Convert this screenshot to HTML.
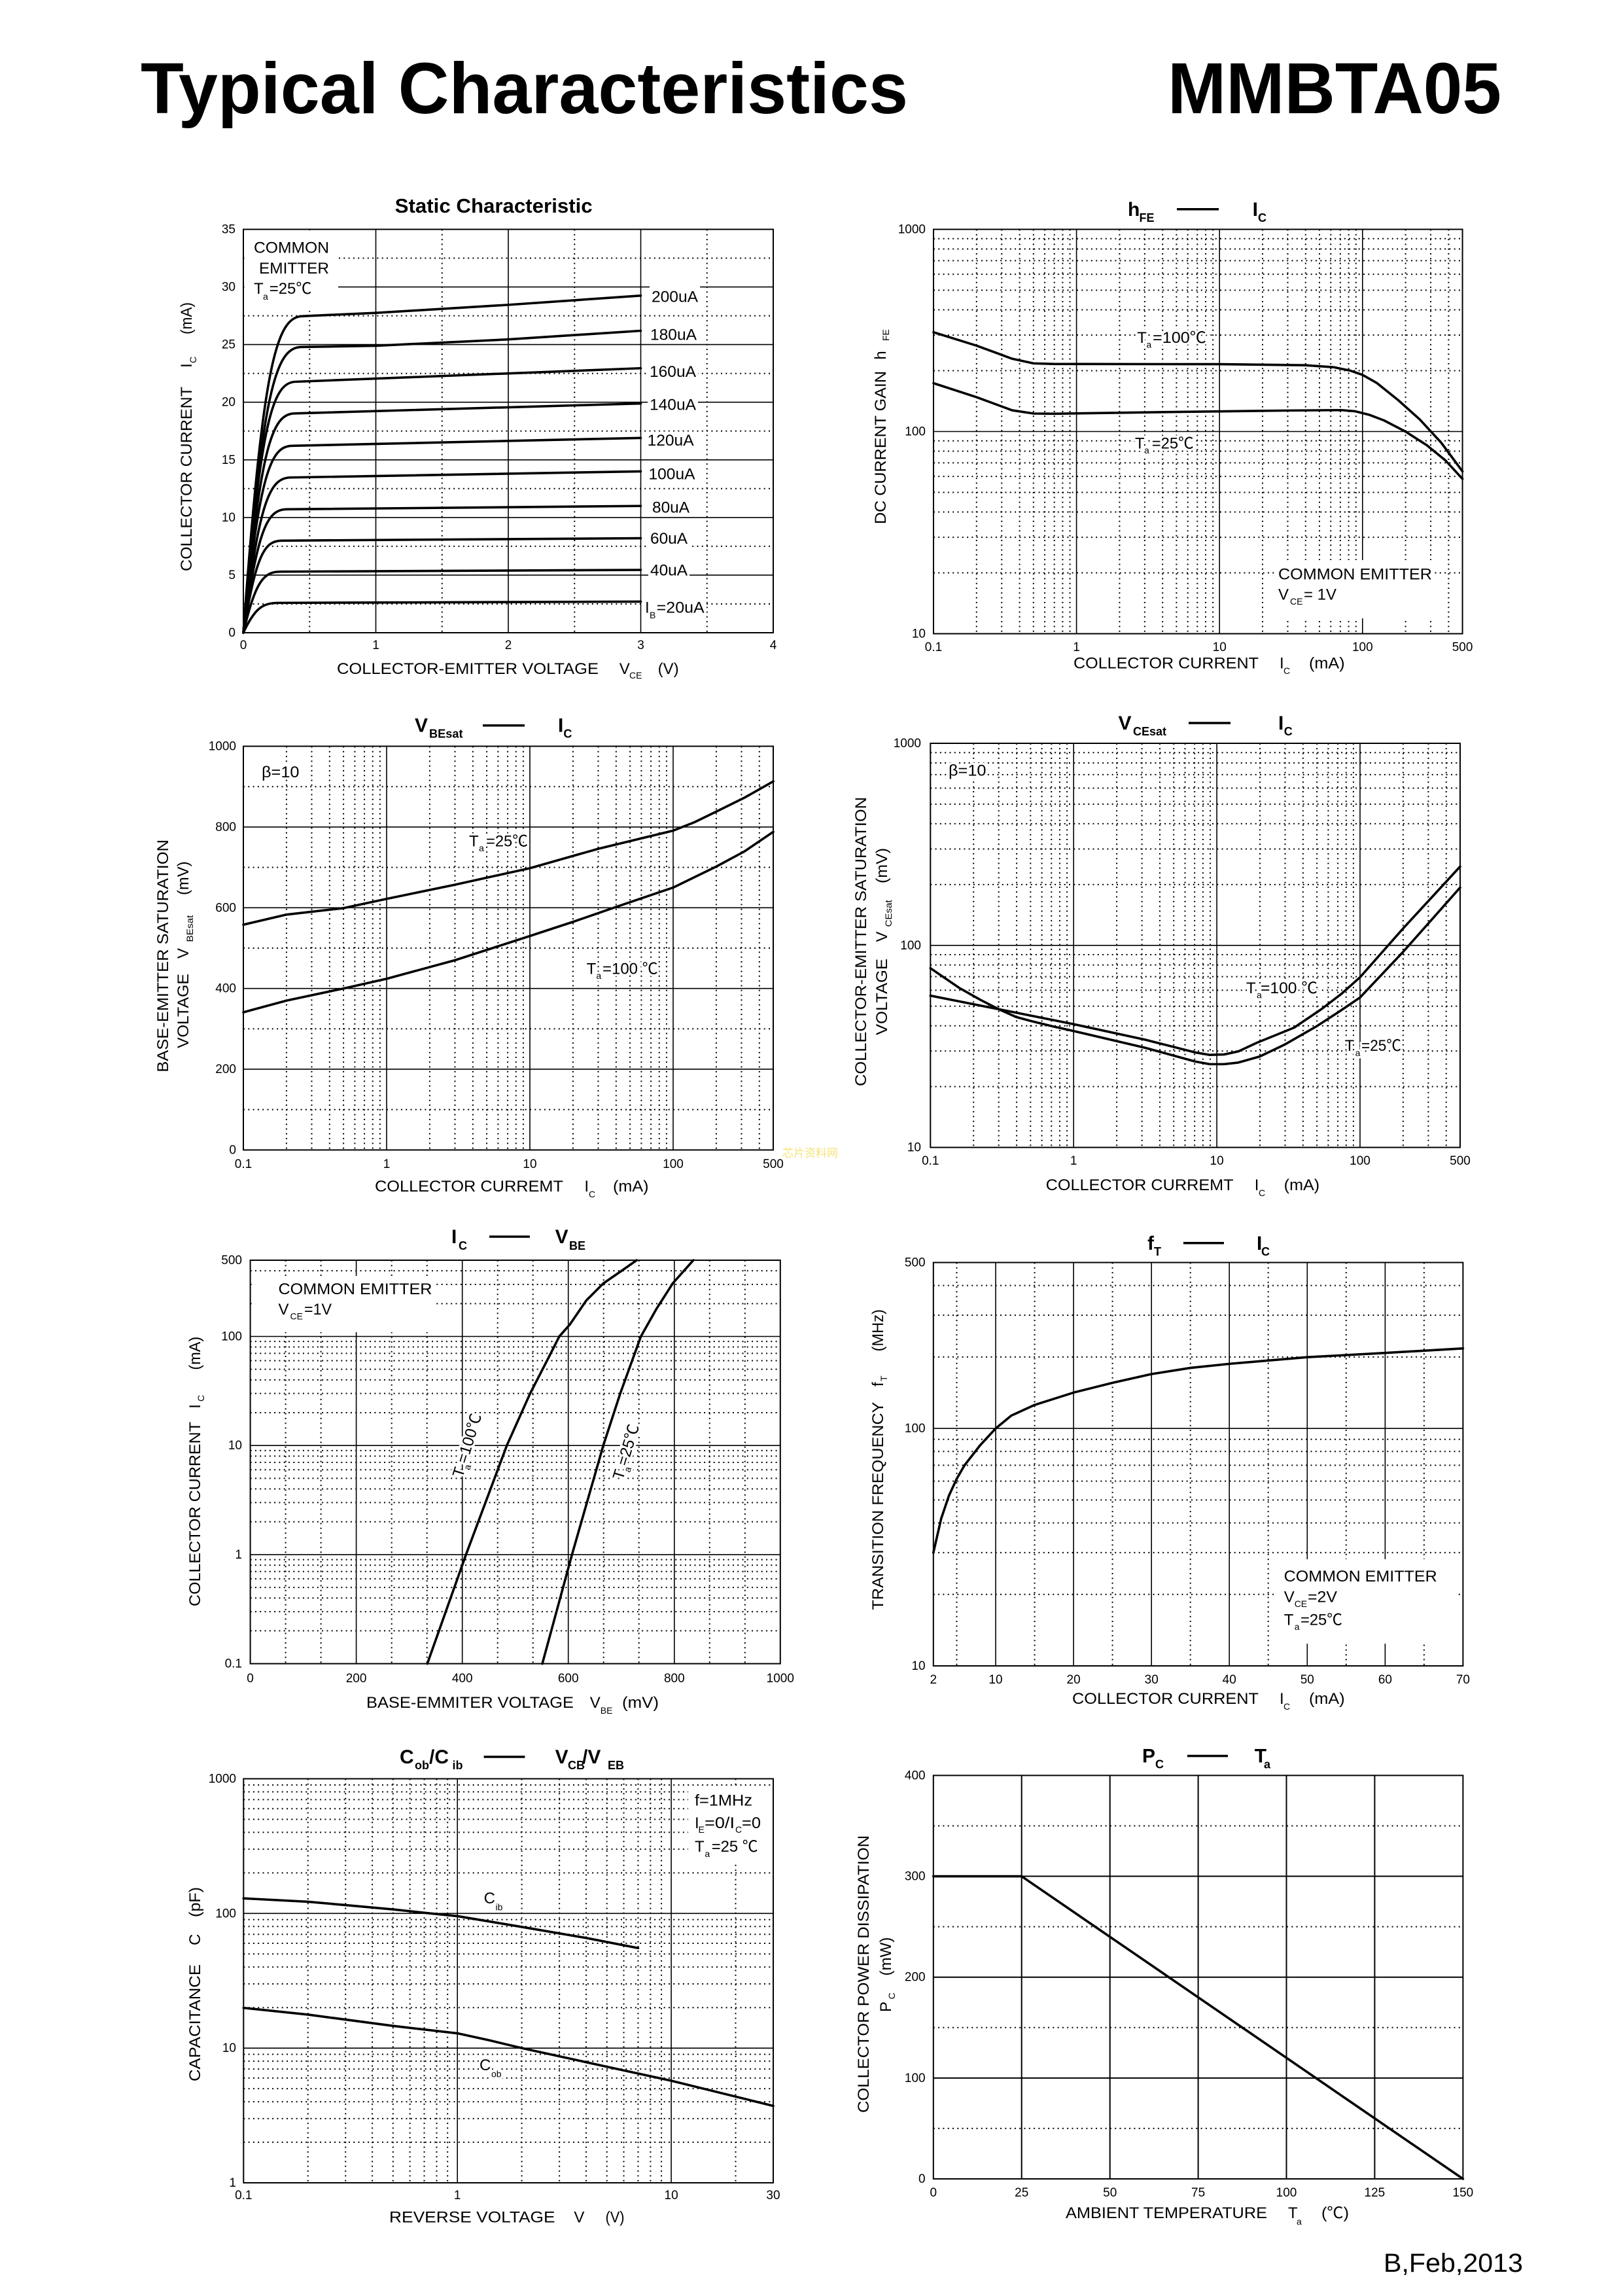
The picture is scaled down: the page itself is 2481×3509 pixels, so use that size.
<!DOCTYPE html>
<html><head><meta charset="utf-8"><style>
html,body{margin:0;padding:0;background:#fff}
svg{display:block}
text{font-family:"Liberation Sans","Noto Sans CJK SC",sans-serif;fill:#000}
.te{font-size:19px;text-anchor:end}
.tm{font-size:19px;text-anchor:middle}
.a{font-size:24px}
.sb{font-size:14px}
.h{font-size:30px;font-weight:bold}
.hs{font-size:18px;font-weight:bold}
.d{fill:none;stroke:#000;stroke-width:2;stroke-dasharray:2 5.3;vector-effect:non-scaling-stroke}
.s{fill:none;stroke:#000;stroke-width:1.6;vector-effect:non-scaling-stroke}
.c{fill:none;stroke:#000;stroke-width:3.6;stroke-linejoin:round;stroke-linecap:round;vector-effect:non-scaling-stroke}
.f{fill:none;stroke:#000;stroke-width:2}
.w{fill:#fff;stroke:none}
.halo{stroke:#fff;stroke-width:7px;paint-order:stroke;stroke-linejoin:round}
</style></head><body>
<svg xmlns="http://www.w3.org/2000/svg" width="2481" height="3509" viewBox="0 0 2481 3509">
<rect x="0" y="0" width="2481" height="3509" fill="#fff"/>

<!-- Header -->
<text x="215" y="173" style="font-size:110px;font-weight:bold" textLength="1173" lengthAdjust="spacingAndGlyphs">Typical Characteristics</text>
<text x="1785" y="173" style="font-size:110px;font-weight:bold" textLength="510" lengthAdjust="spacingAndGlyphs">MMBTA05</text>

<!-- ================= Chart 1: Static Characteristic ================= -->
<text x="603.7" y="325" style="font-size:31px;font-weight:bold" textLength="302" lengthAdjust="spacingAndGlyphs">Static Characteristic</text>
<path class="d" d="M473.25 350.5V967M675.75 350.5V967M878.25 350.5V967M1080.75 350.5V967M372 923H1182M372 834.9H1182M372 746.8H1182M372 658.8H1182M372 570.7H1182M372 482.6H1182M372 394.5H1182"/>
<path class="s" d="M574.5 350.5V967M777 350.5V967M979.5 350.5V967M372 878.9H1182M372 790.9H1182M372 702.8H1182M372 614.7H1182M372 526.6H1182M372 438.6H1182"/>
<rect class="w" x="373.5" y="352" width="143.5" height="123"/>
<rect class="w" x="993" y="437" width="77" height="30"/>
<rect class="w" x="991" y="498" width="77" height="27"/>
<rect class="w" x="990" y="554.5" width="77" height="27"/>
<rect class="w" x="990" y="605" width="77" height="27"/>
<rect class="w" x="986.6" y="659.7" width="77" height="27"/>
<rect class="w" x="988.5" y="711" width="77" height="27"/>
<rect class="w" x="994" y="762" width="63" height="27"/>
<rect class="w" x="991" y="809.5" width="63" height="27"/>
<rect class="w" x="991" y="858" width="63" height="27"/>
<rect class="w" x="983" y="915" width="97" height="27"/>
<rect class="f" x="372" y="350.5" width="810" height="616.5"/>
<g transform="translate(372 967) scale(202.5 -17.614)">
<path class="c" d="M0 0C0.1485 23.35 0.2475 27.47 0.45 27.47L1 27.75L2 28.45L3 29.25"/>
<path class="c" d="M0 0C0.145 21.07 0.242 24.79 0.44 24.79L1 24.9L2 25.45L3 26.2"/>
<path class="c" d="M0 0C0.132 18.51 0.22 21.78 0.40 21.78L3 22.95"/>
<path class="c" d="M0 0C0.129 16.18 0.2145 19.03 0.39 19.03L3 19.89"/>
<path class="c" d="M0 0C0.122 13.79 0.2035 16.22 0.37 16.22L3 16.9"/>
<path class="c" d="M0 0C0.119 11.45 0.198 13.47 0.36 13.47L3 14.0"/>
<path class="c" d="M0 0C0.109 9.1 0.1815 10.71 0.33 10.71L3 11.0"/>
<path class="c" d="M0 0C0.096 6.79 0.16 7.99 0.29 7.99L3 8.2"/>
<path class="c" d="M0 0C0.092 4.5 0.154 5.3 0.28 5.3L3 5.45"/>
<path class="c" d="M0 0C0.089 2.2 0.1485 2.59 0.27 2.59L3 2.7"/>
</g>
<text class="a" x="388" y="386.7" textLength="115" lengthAdjust="spacingAndGlyphs">COMMON</text>
<text class="a" x="396" y="418" textLength="107" lengthAdjust="spacingAndGlyphs">EMITTER</text>
<text class="a" x="388" y="449">T</text><text class="sb" x="402" y="458">a</text><text class="a" x="411.7" y="449">=25℃</text>
<text class="a" x="996" y="461.5" textLength="71" lengthAdjust="spacingAndGlyphs">200uA</text>
<text class="a" x="994" y="519.5" textLength="71" lengthAdjust="spacingAndGlyphs">180uA</text>
<text class="a" x="993" y="576" textLength="71" lengthAdjust="spacingAndGlyphs">160uA</text>
<text class="a" x="993" y="626.5" textLength="71" lengthAdjust="spacingAndGlyphs">140uA</text>
<text class="a" x="989.6" y="681" textLength="71" lengthAdjust="spacingAndGlyphs">120uA</text>
<text class="a" x="991.5" y="732.5" textLength="71" lengthAdjust="spacingAndGlyphs">100uA</text>
<text class="a" x="997" y="783.5" textLength="57" lengthAdjust="spacingAndGlyphs">80uA</text>
<text class="a" x="994" y="831" textLength="57" lengthAdjust="spacingAndGlyphs">60uA</text>
<text class="a" x="994" y="879.5" textLength="57" lengthAdjust="spacingAndGlyphs">40uA</text>
<text class="a" x="986" y="936.5">I</text><text class="sb" x="993" y="945">B</text><text class="a" x="1003.7" y="936.5" textLength="73" lengthAdjust="spacingAndGlyphs">=20uA</text>
<text class="te" x="360" y="973">0</text><text class="te" x="360" y="884.9">5</text><text class="te" x="360" y="796.9">10</text><text class="te" x="360" y="708.8">15</text><text class="te" x="360" y="620.7">20</text><text class="te" x="360" y="532.6">25</text><text class="te" x="360" y="444.6">30</text><text class="te" x="360" y="356.5">35</text>
<text class="tm" x="372" y="992">0</text><text class="tm" x="574.5" y="992">1</text><text class="tm" x="777" y="992">2</text><text class="tm" x="979.5" y="992">3</text><text class="tm" x="1182" y="992">4</text>
<text class="a" x="515" y="1030" textLength="400" lengthAdjust="spacingAndGlyphs">COLLECTOR-EMITTER VOLTAGE</text>
<text class="a" x="946.7" y="1030">V</text><text class="sb" x="962" y="1037">CE</text><text class="a" x="1005.6" y="1030">(V)</text>
<text class="a" transform="translate(293 873) rotate(-90)" textLength="282" lengthAdjust="spacingAndGlyphs">COLLECTOR CURRENT</text>
<text class="a" transform="translate(293 562) rotate(-90)">I</text>
<text class="sb" transform="translate(300 555) rotate(-90)">C</text>
<text class="a" transform="translate(293 511) rotate(-90)" textLength="49" lengthAdjust="spacingAndGlyphs">(mA)</text>

<!-- ================= Chart 2: hFE - IC ================= -->
<text class="h" x="1724" y="329.8">h</text><text class="hs" x="1741.5" y="339">FE</text>
<line x1="1799" y1="319.8" x2="1863" y2="319.8" stroke="#000" stroke-width="3.5"/>
<text class="h" x="1914.6" y="329.8">I</text><text class="hs" x="1923" y="339">C</text>
<g transform="translate(1427 0) scale(218.6 1)">
<path class="d" d="M.301 350.5V968.5M.477 350.5V968.5M.602 350.5V968.5M.699 350.5V968.5M.778 350.5V968.5M.845 350.5V968.5M.903 350.5V968.5M.954 350.5V968.5M1.301 350.5V968.5M1.477 350.5V968.5M1.602 350.5V968.5M1.699 350.5V968.5M1.778 350.5V968.5M1.845 350.5V968.5M1.903 350.5V968.5M1.954 350.5V968.5M2.301 350.5V968.5M2.477 350.5V968.5M2.602 350.5V968.5M2.699 350.5V968.5M2.778 350.5V968.5M2.845 350.5V968.5M2.903 350.5V968.5M2.954 350.5V968.5M3.301 350.5V968.5M3.477 350.5V968.5M3.602 350.5V968.5"/>
<path class="s" d="M1 350.5V968.5M2 350.5V968.5M3 350.5V968.5"/>
</g>
<g transform="translate(0 968.5) scale(1 -309)">
<path class="d" d="M1427 .301H2235.6M1427 .477H2235.6M1427 .602H2235.6M1427 .699H2235.6M1427 .778H2235.6M1427 .845H2235.6M1427 .903H2235.6M1427 .954H2235.6M1427 1.301H2235.6M1427 1.477H2235.6M1427 1.602H2235.6M1427 1.699H2235.6M1427 1.778H2235.6M1427 1.845H2235.6M1427 1.903H2235.6M1427 1.954H2235.6"/>
<path class="s" d="M1427 1H2235.6"/>
</g>
<rect class="w" x="1950" y="856" width="243" height="89"/>
<rect class="f" x="1427" y="350.5" width="808.6" height="618"/>
<g transform="translate(1427 968.5) scale(218.6 -309)">
<path class="c" d="M0 1.491L0.3 1.425L0.55 1.36L0.7 1.337L0.85 1.334L2 1.333L2.6 1.328L2.8 1.318L2.92 1.3L3 1.28L3.1 1.24L3.25 1.155L3.4 1.06L3.55 0.945L3.699 0.803"/>
<path class="c" d="M0 1.239L0.3 1.17L0.55 1.105L0.7 1.089L0.85 1.088L1.5 1.095L2.5 1.104L2.85 1.106L2.95 1.1L3.05 1.082L3.15 1.055L3.3 1.0L3.45 0.932L3.58 0.857L3.699 0.766"/>
</g>
<text class="a halo" x="1738.3" y="524">T</text><text class="sb halo" x="1752.4" y="531.6">a</text><text class="a halo" x="1762" y="524" textLength="82" lengthAdjust="spacingAndGlyphs">=100℃</text>
<text class="a halo" x="1735" y="685.5">T</text><text class="sb halo" x="1749" y="693">a</text><text class="a halo" x="1760.8" y="685.5" textLength="64" lengthAdjust="spacingAndGlyphs">=25℃</text>
<text class="a" x="1954" y="885.6" textLength="235" lengthAdjust="spacingAndGlyphs">COMMON EMITTER</text>
<text class="a" x="1954" y="916.4">V</text><text class="sb" x="1972" y="924">CE</text><text class="a" x="1993" y="916.4" textLength="50" lengthAdjust="spacingAndGlyphs">= 1V</text>
<text class="te" x="1415" y="356.5">1000</text><text class="te" x="1415" y="665.5">100</text><text class="te" x="1415" y="974.5">10</text>
<text class="tm" x="1427" y="995">0.1</text><text class="tm" x="1645.6" y="995">1</text><text class="tm" x="1864.2" y="995">10</text><text class="tm" x="2082.8" y="995">100</text><text class="tm" x="2235.6" y="995">500</text>
<text class="a" x="1641" y="1021.5" textLength="283" lengthAdjust="spacingAndGlyphs">COLLECTOR CURRENT</text>
<text class="a" x="1956" y="1021.5">I</text><text class="sb" x="1962" y="1030">C</text><text class="a" x="2001" y="1021.5" textLength="54.6" lengthAdjust="spacingAndGlyphs">(mA)</text>
<text class="a" transform="translate(1354 801) rotate(-90)" textLength="234" lengthAdjust="spacingAndGlyphs">DC CURRENT GAIN</text>
<text class="a" transform="translate(1354 549.6) rotate(-90)">h</text>
<text class="sb" transform="translate(1359 521) rotate(-90)">FE</text>

<!-- ================= Chart 3: VBEsat - IC ================= -->
<text class="h" x="634" y="1118.7">V</text><text class="hs" x="656" y="1127.7" textLength="51.5" lengthAdjust="spacingAndGlyphs">BEsat</text>
<line x1="738" y1="1108.7" x2="802" y2="1108.7" stroke="#000" stroke-width="3.5"/>
<text class="h" x="853" y="1118.7">I</text><text class="hs" x="861.4" y="1127.7">C</text>
<g transform="translate(372 0) scale(219 1)">
<path class="d" d="M.301 1140.5V1757.5M.477 1140.5V1757.5M.602 1140.5V1757.5M.699 1140.5V1757.5M.778 1140.5V1757.5M.845 1140.5V1757.5M.903 1140.5V1757.5M.954 1140.5V1757.5M1.301 1140.5V1757.5M1.477 1140.5V1757.5M1.602 1140.5V1757.5M1.699 1140.5V1757.5M1.778 1140.5V1757.5M1.845 1140.5V1757.5M1.903 1140.5V1757.5M1.954 1140.5V1757.5M2.301 1140.5V1757.5M2.477 1140.5V1757.5M2.602 1140.5V1757.5M2.699 1140.5V1757.5M2.778 1140.5V1757.5M2.845 1140.5V1757.5M2.903 1140.5V1757.5M2.954 1140.5V1757.5M3.301 1140.5V1757.5M3.477 1140.5V1757.5M3.602 1140.5V1757.5"/>
<path class="s" d="M1 1140.5V1757.5M2 1140.5V1757.5M3 1140.5V1757.5"/>
</g>
<path class="d" d="M372 1695.8H1182M372 1572.4H1182M372 1449H1182M372 1325.6H1182M372 1202.2H1182"/>
<path class="s" d="M372 1634.1H1182M372 1510.7H1182M372 1387.3H1182M372 1263.9H1182"/>
<rect class="f" x="372" y="1140.5" width="810" height="617"/>
<g transform="translate(372 1757.5) scale(219 -0.617)">
<path class="c" d="M0 558L0.301 583L0.699 599L1 622L1.477 657L2 698L2.477 746L3 791L3.15 812L3.3 838L3.5 873L3.699 913"/>
<path class="c" d="M0 341L0.301 370L0.699 400L1 424L1.477 470L2 530L2.301 565L2.602 602L3 650L3.301 702L3.5 740L3.699 788"/>
</g>
<text class="a halo" x="400" y="1188" textLength="57.5" lengthAdjust="spacingAndGlyphs">β=10</text>
<text class="a halo" x="717" y="1293.4">T</text><text class="sb halo" x="732" y="1301">a</text><text class="a halo" x="743" y="1293.4" textLength="64" lengthAdjust="spacingAndGlyphs">=25℃</text>
<text class="a halo" x="896.6" y="1488.4">T</text><text class="sb halo" x="911.4" y="1496">a</text><text class="a halo" x="921" y="1488.4" textLength="84.6" lengthAdjust="spacingAndGlyphs">=100 ℃</text>
<text class="te" x="361" y="1146.5">1000</text><text class="te" x="361" y="1269.9">800</text><text class="te" x="361" y="1393.3">600</text><text class="te" x="361" y="1516.7">400</text><text class="te" x="361" y="1640.1">200</text><text class="te" x="361" y="1763.5">0</text>
<text class="tm" x="372" y="1785">0.1</text><text class="tm" x="591" y="1785">1</text><text class="tm" x="810" y="1785">10</text><text class="tm" x="1029" y="1785">100</text><text class="tm" x="1182" y="1785">500</text>
<text class="a" x="573" y="1820.8" textLength="288" lengthAdjust="spacingAndGlyphs">COLLECTOR CURREMT</text>
<text class="a" x="893.4" y="1820.8">I</text><text class="sb" x="900" y="1830">C</text><text class="a" x="937" y="1820.8" textLength="54.5" lengthAdjust="spacingAndGlyphs">(mA)</text>
<text class="a" transform="translate(257 1638.7) rotate(-90)" textLength="355.6" lengthAdjust="spacingAndGlyphs">BASE-EMITTER SATURATION</text>
<text class="a" transform="translate(288 1602) rotate(-90)" textLength="114" lengthAdjust="spacingAndGlyphs">VOLTAGE</text>
<text class="a" transform="translate(288 1465) rotate(-90)">V</text>
<text class="sb" transform="translate(295 1439.6) rotate(-90)" textLength="41" lengthAdjust="spacingAndGlyphs">BEsat</text>
<text class="a" transform="translate(288 1368) rotate(-90)" textLength="51.5" lengthAdjust="spacingAndGlyphs">(mV)</text>
<text x="1196" y="1768" style="font-size:17px;fill:#f5e27a">芯片资料网</text>

<!-- ================= Chart 4: VCEsat - IC ================= -->
<text class="h" x="1709.5" y="1115">V</text><text class="hs" x="1732" y="1124" textLength="51" lengthAdjust="spacingAndGlyphs">CEsat</text>
<line x1="1817" y1="1105" x2="1881" y2="1105" stroke="#000" stroke-width="3.5"/>
<text class="h" x="1954" y="1115">I</text><text class="hs" x="1962.7" y="1124">C</text>
<g transform="translate(1422.3 0) scale(218.9 1)">
<path class="d" d="M.301 1136V1753.6M.477 1136V1753.6M.602 1136V1753.6M.699 1136V1753.6M.778 1136V1753.6M.845 1136V1753.6M.903 1136V1753.6M.954 1136V1753.6M1.301 1136V1753.6M1.477 1136V1753.6M1.602 1136V1753.6M1.699 1136V1753.6M1.778 1136V1753.6M1.845 1136V1753.6M1.903 1136V1753.6M1.954 1136V1753.6M2.301 1136V1753.6M2.477 1136V1753.6M2.602 1136V1753.6M2.699 1136V1753.6M2.778 1136V1753.6M2.845 1136V1753.6M2.903 1136V1753.6M2.954 1136V1753.6M3.301 1136V1753.6M3.477 1136V1753.6M3.602 1136V1753.6"/>
<path class="s" d="M1 1136V1753.6M2 1136V1753.6M3 1136V1753.6"/>
</g>
<g transform="translate(0 1753.6) scale(1 -308.8)">
<path class="d" d="M1422.3 .301H2232M1422.3 .477H2232M1422.3 .602H2232M1422.3 .699H2232M1422.3 .778H2232M1422.3 .845H2232M1422.3 .903H2232M1422.3 .954H2232M1422.3 1.301H2232M1422.3 1.477H2232M1422.3 1.602H2232M1422.3 1.699H2232M1422.3 1.778H2232M1422.3 1.845H2232M1422.3 1.903H2232M1422.3 1.954H2232"/>
<path class="s" d="M1422.3 1H2232"/>
</g>
<rect class="f" x="1422.3" y="1136" width="809.7" height="617.6"/>
<g transform="translate(1422.3 1753.6) scale(218.9 -308.8)">
<path class="c" d="M0 0.887L0.2 0.79L0.35 0.73L0.477 0.684L0.6 0.645L0.699 0.626L0.85 0.6L1 0.576L1.5 0.493L1.85 0.425L1.95 0.412L2.05 0.412L2.15 0.42L2.3 0.45L2.477 0.51L2.7 0.601L2.85 0.67L3 0.742L3.3 0.967L3.699 1.286"/>
<path class="c" d="M0 0.751L0.477 0.684L1 0.61L1.5 0.533L1.85 0.47L1.95 0.458L2.05 0.46L2.15 0.475L2.28 0.518L2.54 0.593L2.73 0.684L2.87 0.76L3 0.842L3.3 1.083L3.699 1.39"/>
</g>
<text class="a halo" x="1450" y="1185.7" textLength="57.5" lengthAdjust="spacingAndGlyphs">β=10</text>
<text class="a halo" x="1905" y="1518">T</text><text class="sb halo" x="1921" y="1525.6">a</text><text class="a halo" x="1927" y="1518" textLength="87" lengthAdjust="spacingAndGlyphs">=100 ℃</text>
<text class="a halo" x="2055.6" y="1606">T</text><text class="sb halo" x="2071.6" y="1614">a</text><text class="a halo" x="2081" y="1606" textLength="61" lengthAdjust="spacingAndGlyphs">=25℃</text>
<text class="te" x="1408" y="1142">1000</text><text class="te" x="1408" y="1450.8">100</text><text class="te" x="1408" y="1759.6">10</text>
<text class="tm" x="1422.3" y="1780">0.1</text><text class="tm" x="1641.2" y="1780">1</text><text class="tm" x="1860.1" y="1780">10</text><text class="tm" x="2079" y="1780">100</text><text class="tm" x="2232" y="1780">500</text>
<text class="a" x="1598.6" y="1819" textLength="287" lengthAdjust="spacingAndGlyphs">COLLECTOR CURREMT</text>
<text class="a" x="1917.8" y="1819">I</text><text class="sb" x="1924" y="1828">C</text><text class="a" x="1962.7" y="1819" textLength="54.5" lengthAdjust="spacingAndGlyphs">(mA)</text>
<text class="a" transform="translate(1324 1660) rotate(-90)" textLength="442" lengthAdjust="spacingAndGlyphs">COLLECTOR-EMITTER SATURATION</text>
<text class="a" transform="translate(1356 1582) rotate(-90)" textLength="117" lengthAdjust="spacingAndGlyphs">VOLTAGE</text>
<text class="a" transform="translate(1356 1439.6) rotate(-90)">V</text>
<text class="sb" transform="translate(1363 1416.5) rotate(-90)" textLength="41" lengthAdjust="spacingAndGlyphs">CEsat</text>
<text class="a" transform="translate(1356 1350) rotate(-90)" textLength="54" lengthAdjust="spacingAndGlyphs">(mV)</text>

<!-- ================= Chart 5: IC - VBE ================= -->
<text class="h" x="690" y="1900">I</text><text class="hs" x="701" y="1910">C</text>
<line x1="748" y1="1890" x2="810" y2="1890" stroke="#000" stroke-width="3.5"/>
<text class="h" x="848.6" y="1900">V</text><text class="hs" x="870" y="1910">BE</text>
<path class="d" d="M436.6 1926V2542.6M490.6 1926V2542.6M598.7 1926V2542.6M652.7 1926V2542.6M760.7 1926V2542.6M814.7 1926V2542.6M922.7 1926V2542.6M976.7 1926V2542.6M1084.8 1926V2542.6M1138.8 1926V2542.6"/>
<path class="s" d="M544.6 1926V2542.6M706.7 1926V2542.6M868.7 1926V2542.6M1030.8 1926V2542.6"/>
<g transform="translate(0 2542.6) scale(1 -166.7)">
<path class="d" d="M382.6 .301H1192.8M382.6 .477H1192.8M382.6 .602H1192.8M382.6 .699H1192.8M382.6 .778H1192.8M382.6 .845H1192.8M382.6 .903H1192.8M382.6 .954H1192.8M382.6 1.301H1192.8M382.6 1.477H1192.8M382.6 1.602H1192.8M382.6 1.699H1192.8M382.6 1.778H1192.8M382.6 1.845H1192.8M382.6 1.903H1192.8M382.6 1.954H1192.8M382.6 2.301H1192.8M382.6 2.477H1192.8M382.6 2.602H1192.8M382.6 2.699H1192.8M382.6 2.778H1192.8M382.6 2.845H1192.8M382.6 2.903H1192.8M382.6 2.954H1192.8M382.6 3.301H1192.8M382.6 3.477H1192.8M382.6 3.602H1192.8"/>
<path class="s" d="M382.6 1H1192.8M382.6 2H1192.8M382.6 3H1192.8"/>
</g>
<rect class="w" x="390" y="1950" width="272" height="86"/>
<rect class="f" x="382.6" y="1926" width="810.2" height="616.6"/>
<g transform="translate(382.6 2542.6) scale(0.8102 -166.7)">
<path class="c" d="M334 0L407 1L484 2L528 2.477L567 2.846L583 3L603 3.11L634 3.33L666 3.486L700 3.6L729 3.699"/>
<path class="c" d="M551 0L607 1L666 2L698 2.477L737 3L766 3.25L797 3.486L836 3.699"/>
</g>
<text class="a" x="425.5" y="1978" textLength="235" lengthAdjust="spacingAndGlyphs">COMMON EMITTER</text>
<text class="a" x="425.5" y="2009">V</text><text class="sb" x="443.5" y="2016.7">CE</text><text class="a" x="465" y="2009" textLength="42" lengthAdjust="spacingAndGlyphs">=1V</text>
<g transform="translate(714 2209) rotate(-73)"><text class="a halo" x="0" y="8" text-anchor="middle">T<tspan class="sb" dy="7">a</tspan><tspan dy="-7">=100℃</tspan></text></g>
<g transform="translate(957 2219) rotate(-73)"><text class="a halo" x="0" y="8" text-anchor="middle">T<tspan class="sb" dy="7">a</tspan><tspan dy="-7">=25℃</tspan></text></g>
<text class="te" x="370" y="1932">500</text><text class="te" x="370" y="2048.5">100</text><text class="te" x="370" y="2215.2">10</text><text class="te" x="370" y="2381.9">1</text><text class="te" x="370" y="2548.6">0.1</text>
<text class="tm" x="382.6" y="2571">0</text><text class="tm" x="544.6" y="2571">200</text><text class="tm" x="706.7" y="2571">400</text><text class="tm" x="868.7" y="2571">600</text><text class="tm" x="1030.8" y="2571">800</text><text class="tm" x="1192.8" y="2571">1000</text>
<text class="a" x="560" y="2610" textLength="317" lengthAdjust="spacingAndGlyphs">BASE-EMMITER VOLTAGE</text>
<text class="a" x="901.8" y="2610">V</text><text class="sb" x="917.8" y="2619">BE</text><text class="a" x="951" y="2610" textLength="56" lengthAdjust="spacingAndGlyphs">(mV)</text>
<text class="a" transform="translate(306 2455) rotate(-90)" textLength="282" lengthAdjust="spacingAndGlyphs">COLLECTOR CURRENT</text>
<text class="a" transform="translate(306 2152.7) rotate(-90)">I</text>
<text class="sb" transform="translate(312 2142) rotate(-90)">C</text>
<text class="a" transform="translate(306 2093.7) rotate(-90)" textLength="51" lengthAdjust="spacingAndGlyphs">(mA)</text>

<!-- ================= Chart 6: fT - IC ================= -->
<text class="h" x="1754" y="1909.8">f</text><text class="hs" x="1764" y="1918.8">T</text>
<line x1="1809" y1="1899.8" x2="1871" y2="1899.8" stroke="#000" stroke-width="3.5"/>
<text class="h" x="1921" y="1909.8">I</text><text class="hs" x="1928" y="1918.8">C</text>
<path class="d" d="M1462.5 1929.5V2546M1581.6 1929.5V2546M1700.6 1929.5V2546M1819.7 1929.5V2546M1938.7 1929.5V2546M2057.8 1929.5V2546M2176.9 1929.5V2546"/>
<path class="s" d="M1522.05 1929.5V2546M1641.1 1929.5V2546M1760.2 1929.5V2546M1879.2 1929.5V2546M1998.3 1929.5V2546M2117.4 1929.5V2546"/>
<g transform="translate(0 2546) scale(1 -362.9)">
<path class="d" d="M1426.8 .301H2236.4M1426.8 .477H2236.4M1426.8 .602H2236.4M1426.8 .699H2236.4M1426.8 .778H2236.4M1426.8 .845H2236.4M1426.8 .903H2236.4M1426.8 .954H2236.4M1426.8 1.301H2236.4M1426.8 1.477H2236.4M1426.8 1.602H2236.4"/>
<path class="s" d="M1426.8 1H2236.4"/>
</g>
<rect class="w" x="1950" y="2383" width="276" height="129"/>
<rect class="f" x="1426.8" y="1929.5" width="809.6" height="616.5"/>
<g transform="translate(1402.99 2546) scale(11.906 -362.9)">
<path class="c" d="M2 0.477L3 0.62L4 0.717L5 0.788L6 0.845L8 0.929L10 1.0L12 1.054L15 1.099L20 1.151L25 1.192L30 1.229L35 1.255L40 1.272L50 1.3L60 1.318L70 1.337"/>
</g>
<text class="a" x="1962.7" y="2417" textLength="234" lengthAdjust="spacingAndGlyphs">COMMON EMITTER</text>
<text class="a" x="1962.7" y="2448.7">V</text><text class="sb" x="1978.7" y="2456">CE</text><text class="a" x="1999" y="2448.7" textLength="45" lengthAdjust="spacingAndGlyphs">=2V</text>
<text class="a" x="1962.7" y="2483.6">T</text><text class="sb" x="1978.7" y="2491">a</text><text class="a" x="1988" y="2483.6" textLength="64" lengthAdjust="spacingAndGlyphs">=25℃</text>
<text class="te" x="1414.6" y="1935.5">500</text><text class="te" x="1414.6" y="2189.1">100</text><text class="te" x="1414.6" y="2552">10</text>
<text class="tm" x="1426.8" y="2573">2</text><text class="tm" x="1522" y="2573">10</text><text class="tm" x="1641.1" y="2573">20</text><text class="tm" x="1760.2" y="2573">30</text><text class="tm" x="1879.2" y="2573">40</text><text class="tm" x="1998.3" y="2573">50</text><text class="tm" x="2117.4" y="2573">60</text><text class="tm" x="2236.4" y="2573">70</text>
<text class="a" x="1639" y="2604" textLength="285" lengthAdjust="spacingAndGlyphs">COLLECTOR CURRENT</text>
<text class="a" x="1956" y="2604">I</text><text class="sb" x="1962" y="2613">C</text><text class="a" x="2001" y="2604" textLength="54.6" lengthAdjust="spacingAndGlyphs">(mA)</text>
<text class="a" transform="translate(1350 2460.5) rotate(-90)" textLength="318" lengthAdjust="spacingAndGlyphs">TRANSITION FREQUENCY</text>
<text class="a" transform="translate(1350 2119) rotate(-90)">f</text>
<text class="sb" transform="translate(1356 2111) rotate(-90)">T</text>
<text class="a" transform="translate(1350 2065.5) rotate(-90)" textLength="64.5" lengthAdjust="spacingAndGlyphs">(MHz)</text>

<!-- ================= Chart 7: Cob/Cib - VCB/VEB ================= -->
<text class="h" x="611" y="2695">C</text><text class="hs" x="634" y="2704">ob</text><text class="h" x="656" y="2695">/C</text><text class="hs" x="691.5" y="2704">ib</text>
<line x1="739.6" y1="2685" x2="802.4" y2="2685" stroke="#000" stroke-width="3.5"/>
<text class="h" x="848.6" y="2695">V</text><text class="hs" x="868" y="2704">CB</text><text class="h" x="890" y="2695">/V</text><text class="hs" x="929" y="2704">EB</text>
<g transform="translate(372.3 0) scale(326.9 1)">
<path class="d" d="M.301 2718.5V3336M.477 2718.5V3336M.602 2718.5V3336M.699 2718.5V3336M.778 2718.5V3336M.845 2718.5V3336M.903 2718.5V3336M.954 2718.5V3336M1.301 2718.5V3336M1.477 2718.5V3336M1.602 2718.5V3336M1.699 2718.5V3336M1.778 2718.5V3336M1.845 2718.5V3336M1.903 2718.5V3336M1.954 2718.5V3336M2.301 2718.5V3336"/>
<path class="s" d="M1 2718.5V3336M2 2718.5V3336"/>
</g>
<g transform="translate(0 3336) scale(1 -205.83)">
<path class="d" d="M372.3 .301H1182M372.3 .477H1182M372.3 .602H1182M372.3 .699H1182M372.3 .778H1182M372.3 .845H1182M372.3 .903H1182M372.3 .954H1182M372.3 1.301H1182M372.3 1.477H1182M372.3 1.602H1182M372.3 1.699H1182M372.3 1.778H1182M372.3 1.845H1182M372.3 1.903H1182M372.3 1.954H1182M372.3 2.301H1182M372.3 2.477H1182M372.3 2.602H1182M372.3 2.699H1182M372.3 2.778H1182M372.3 2.845H1182M372.3 2.903H1182M372.3 2.954H1182"/>
<path class="s" d="M372.3 1H1182M372.3 2H1182"/>
</g>
<rect class="w" x="1052" y="2730" width="127" height="115"/>
<rect class="f" x="372.3" y="2718.5" width="809.7" height="617.5"/>
<g transform="translate(372.3 3336) scale(326.9 -205.83)">
<path class="c" d="M0 2.112L0.301 2.087L0.477 2.062L0.7 2.03L0.875 2.0L1 1.98L1.301 1.9L1.602 1.818L1.845 1.743"/>
<path class="c" d="M0 1.299L0.301 1.249L0.699 1.165L1 1.11L1.15 1.058L1.301 1.0L1.699 0.862L2 0.758L2.477 0.571"/>
</g>
<text class="a" x="1062" y="2759.5" textLength="88" lengthAdjust="spacingAndGlyphs">f=1MHz</text>
<text class="a" x="1062" y="2794">I</text><text class="sb" x="1067.5" y="2801">E</text><text class="a" x="1077" y="2794" textLength="46" lengthAdjust="spacingAndGlyphs">=0/I</text><text class="sb" x="1124" y="2801">C</text><text class="a" x="1134" y="2794" textLength="29" lengthAdjust="spacingAndGlyphs">=0</text>
<text class="a" x="1062" y="2830">T</text><text class="sb" x="1077.4" y="2838">a</text><text class="a" x="1087.7" y="2830" textLength="71" lengthAdjust="spacingAndGlyphs">=25 ℃</text>
<text class="a halo" x="739.6" y="2909">C</text><text class="sb halo" x="757.5" y="2919.6">ib</text>
<text class="a halo" x="733" y="3164">C</text><text class="sb halo" x="751" y="3174.6">ob</text>
<text class="te" x="361" y="2724.5">1000</text><text class="te" x="361" y="2930.3">100</text><text class="te" x="361" y="3136.2">10</text><text class="te" x="361" y="3342">1</text>
<text class="tm" x="372.3" y="3361">0.1</text><text class="tm" x="699.2" y="3361">1</text><text class="tm" x="1026.1" y="3361">10</text><text class="tm" x="1182" y="3361">30</text>
<text class="a" x="595" y="3396.7" textLength="253.6" lengthAdjust="spacingAndGlyphs">REVERSE  VOLTAGE</text>
<text class="a" x="877.4" y="3396.7">V</text><text class="a" x="925.5" y="3396.7" textLength="29" lengthAdjust="spacingAndGlyphs">(V)</text>
<text class="a" transform="translate(306 3181) rotate(-90)" textLength="179" lengthAdjust="spacingAndGlyphs">CAPACITANCE</text>
<text class="a" transform="translate(306 2973) rotate(-90)">C</text>
<text class="a" transform="translate(306 2930) rotate(-90)" textLength="46" lengthAdjust="spacingAndGlyphs">(pF)</text>

<!-- ================= Chart 8: PC - Ta ================= -->
<text class="h" x="1746" y="2693.6">P</text><text class="hs" x="1766" y="2702.6">C</text>
<line x1="1815" y1="2683.6" x2="1877" y2="2683.6" stroke="#000" stroke-width="3.5"/>
<text class="h" x="1917.8" y="2693.6">T</text><text class="hs" x="1932" y="2702.6">a</text>
<path class="d" d="M1426.8 3252.9H2236.4M1426.8 3098.8H2236.4M1426.8 2944.6H2236.4M1426.8 2790.5H2236.4"/>
<path class="s" style="stroke-width:2" d="M1561.7 2713.4V3330M1696.7 2713.4V3330M1831.6 2713.4V3330M1966.5 2713.4V3330M2101.4 2713.4V3330M1426.8 3175.85H2236.4M1426.8 3021.7H2236.4M1426.8 2867.55H2236.4"/>
<rect class="f" x="1426.8" y="2713.4" width="809.6" height="616.6"/>
<path class="c" d="M1426.8 2867.55L1561.7 2867.55L2236.4 3330"/>
<text class="te" x="1414.6" y="2719.4">400</text><text class="te" x="1414.6" y="2873.6">300</text><text class="te" x="1414.6" y="3027.7">200</text><text class="te" x="1414.6" y="3181.9">100</text><text class="te" x="1414.6" y="3336">0</text>
<text class="tm" x="1426.8" y="3357">0</text><text class="tm" x="1561.7" y="3357">25</text><text class="tm" x="1696.7" y="3357">50</text><text class="tm" x="1831.6" y="3357">75</text><text class="tm" x="1966.5" y="3357">100</text><text class="tm" x="2101.4" y="3357">125</text><text class="tm" x="2236.4" y="3357">150</text>
<text class="a" x="1629" y="3390" textLength="308" lengthAdjust="spacingAndGlyphs">AMBIENT TEMPERATURE</text>
<text class="a" x="1969" y="3390">T</text><text class="sb" x="1982" y="3400">a</text><text class="a" x="2020" y="3390" textLength="42" lengthAdjust="spacingAndGlyphs">(℃)</text>
<text class="a" transform="translate(1328 3229) rotate(-90)" textLength="424" lengthAdjust="spacingAndGlyphs">COLLECTOR POWER DISSIPATION</text>
<text class="a" transform="translate(1362 3075) rotate(-90)">P</text>
<text class="sb" transform="translate(1368 3055.5) rotate(-90)">C</text>
<text class="a" transform="translate(1362 3019.6) rotate(-90)" textLength="59" lengthAdjust="spacingAndGlyphs">(mW)</text>

<!-- Footer -->
<text x="2115" y="3472" style="font-size:40px" textLength="213" lengthAdjust="spacingAndGlyphs">B,Feb,2013</text>
</svg>
</body></html>
